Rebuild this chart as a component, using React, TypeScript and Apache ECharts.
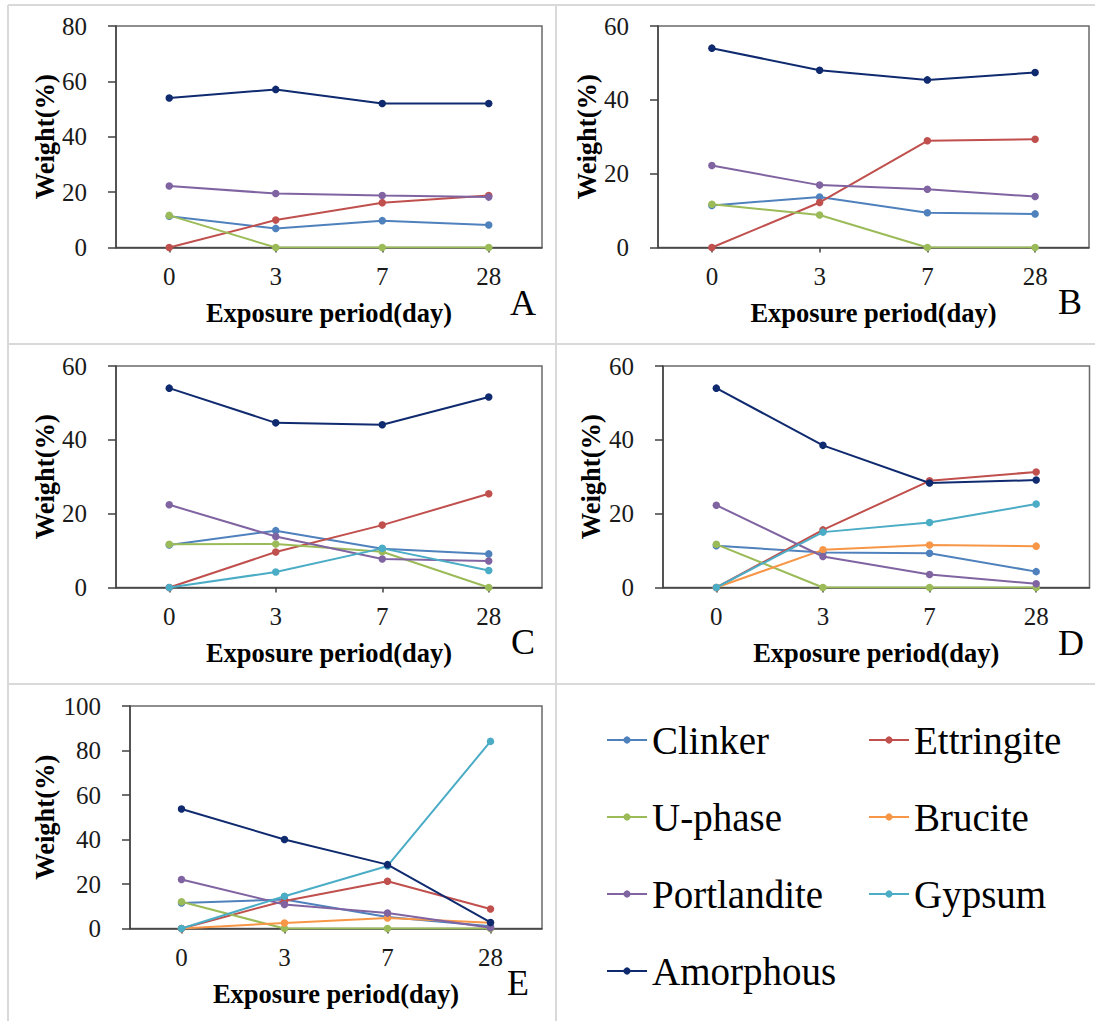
import React, { useEffect, useRef } from "react";
import * as echarts from "echarts";

const FONT = "'Liberation Serif', 'Times New Roman', Times, serif";

const days = ["0", "3", "7", "28"];
const phaseNames = ["Clinker", "Ettringite", "U-phase", "Brucite", "Portlandite", "Gypsum", "Amorphous"];
const phaseColors = ["#4F81BD", "#C0504D", "#9BBB59", "#F79646", "#8064A2", "#4BACC6", "#0F2A6E"];
const yTitle = "Weight(%)";
const xTitle = "Exposure period(day)";
const panelLetters = ["A", "B", "C", "D", "E"];
const panelMax = [80, 60, 60, 60, 100];

// Panel A
const aClinker = [11.3, 6.9, 9.7, 8.1];
const aEttringite = [0, 9.9, 16.2, 18.8];
const aUphase = [11.6, 0, 0, 0];
const aPortlandite = [22.2, 19.5, 18.8, 18.2];
const aAmorphous = [54, 57.1, 52, 52];

// Panel B
const bClinker = [11.4, 13.7, 9.4, 9.1];
const bEttringite = [0, 12.2, 28.9, 29.3];
const bUphase = [11.7, 8.8, 0, 0];
const bPortlandite = [22.2, 16.9, 15.8, 13.8];
const bAmorphous = [54, 48, 45.4, 47.4];

// Panel C
const cClinker = [11.5, 15.4, 10.5, 9.1];
const cEttringite = [0, 9.6, 16.9, 25.4];
const cUphase = [11.7, 11.8, 9.7, 0];
const cPortlandite = [22.4, 13.8, 7.7, 7.2];
const cGypsum = [0, 4.2, 10.6, 4.6];
const cAmorphous = [54, 44.6, 44.1, 51.6];

// Panel D
const dClinker = [11.3, 9.5, 9.3, 4.3];
const dEttringite = [0, 15.6, 28.9, 31.3];
const dUphase = [11.7, 0, 0, 0];
const dBrucite = [0, 10.2, 11.5, 11.2];
const dPortlandite = [22.3, 8.4, 3.5, 1.0];
const dGypsum = [0, 15.0, 17.6, 22.6];
const dAmorphous = [54, 38.5, 28.3, 29.1];

// Panel E
const eClinker = [11.5, 13.0, 5.2, 1.0];
const eEttringite = [0, 12.4, 21.2, 8.8];
const eUphase = [12.0, 0, 0, 0];
const eBrucite = [0, 2.5, 4.7, 2.6];
const ePortlandite = [22.0, 10.8, 7.0, 0.3];
const eGypsum = [0, 14.5, 28.1, 84.1];
const eAmorphous = [53.7, 40.0, 28.7, 2.7];

const panelData: Array<Record<string, number[]>> = [
  { Clinker: aClinker, Ettringite: aEttringite, "U-phase": aUphase, Portlandite: aPortlandite, Amorphous: aAmorphous },
  { Clinker: bClinker, Ettringite: bEttringite, "U-phase": bUphase, Portlandite: bPortlandite, Amorphous: bAmorphous },
  { Clinker: cClinker, Ettringite: cEttringite, "U-phase": cUphase, Portlandite: cPortlandite, Gypsum: cGypsum, Amorphous: cAmorphous },
  { Clinker: dClinker, Ettringite: dEttringite, "U-phase": dUphase, Brucite: dBrucite, Portlandite: dPortlandite, Gypsum: dGypsum, Amorphous: dAmorphous },
  { Clinker: eClinker, Ettringite: eEttringite, "U-phase": eUphase, Brucite: eBrucite, Portlandite: ePortlandite, Gypsum: eGypsum, Amorphous: eAmorphous },
];

// layout (pixels)
const grids = [
  { left: 116, top: 26, width: 426, height: 221.5 },
  { left: 658, top: 26, width: 431, height: 221.5 },
  { left: 116, top: 366, width: 426, height: 221.5 },
  { left: 663, top: 366, width: 426.5, height: 221.5 },
  { left: 130, top: 706, width: 412, height: 222.5 },
];
const yNameGaps = [58, 54, 58, 59, 72];
const letterPos = [
  [523, 303],
  [1070, 302],
  [523, 642],
  [1071, 643],
  [518, 983],
];

export default function App() {
  const ref = useRef<HTMLDivElement>(null);
  useEffect(() => {
    if (!ref.current) return;
    const chart = echarts.init(ref.current, null, { renderer: "svg" });

    const gridOpts = grids.map((g) => ({
      left: g.left,
      top: g.top,
      width: g.width,
      height: g.height,
      show: true,
      borderColor: "#6a6a6a",
      borderWidth: 1.5,
      backgroundColor: "transparent",
    }));

    const xAxes = grids.map((_, i) => ({
      type: "category",
      gridIndex: i,
      data: days,
      boundaryGap: true,
      axisLine: { show: true, lineStyle: { color: "#404040", width: 1.5 } },
      axisTick: { show: true, alignWithLabel: true, length: 5, lineStyle: { color: "#404040", width: 1.5 } },
      axisLabel: { color: "#1a1a1a", fontFamily: FONT, fontSize: 25, margin: 16 },
      splitLine: { show: false },
      name: xTitle,
      nameLocation: "middle",
      nameGap: 52,
      nameTextStyle: { color: "#000", fontFamily: FONT, fontSize: 26.5, fontWeight: "bold" },
    }));

    const yAxes = grids.map((_, i) => ({
      type: "value",
      gridIndex: i,
      min: 0,
      max: panelMax[i],
      interval: 20,
      axisLine: { show: true, lineStyle: { color: "#404040", width: 1.5 } },
      axisTick: { show: true, length: 8, inside: false, lineStyle: { color: "#404040", width: 1.5 } },
      axisLabel: { color: "#1a1a1a", fontFamily: FONT, fontSize: 25, margin: 29 },
      splitLine: { show: false },
      name: yTitle,
      nameLocation: "middle",
      nameGap: yNameGaps[i],
      nameTextStyle: { color: "#000", fontFamily: FONT, fontSize: 26.5, fontWeight: "bold" },
    }));

    const series: any[] = [];
    panelData.forEach((pd, i) => {
      phaseNames.forEach((name, k) => {
        const d = pd[name];
        if (!d) return;
        series.push({
          type: "line",
          name,
          xAxisIndex: i,
          yAxisIndex: i,
          data: d,
          symbol: "circle",
          symbolSize: 7.5,
          showSymbol: true,
          lineStyle: { color: phaseColors[k], width: 2 },
          itemStyle: { color: phaseColors[k] },
          z: 2 + k,
        });
      });
    });

    const divider = { stroke: "#d9d9d9", lineWidth: 2 };
    const graphics: any[] = [
      { type: "line", shape: { x1: 8, y1: 5, x2: 1095, y2: 5 }, style: divider, silent: true },
      { type: "line", shape: { x1: 8, y1: 5, x2: 8, y2: 1021 }, style: divider, silent: true },
      { type: "line", shape: { x1: 556, y1: 5, x2: 556, y2: 1021 }, style: divider, silent: true },
      { type: "line", shape: { x1: 8, y1: 344, x2: 1095, y2: 344 }, style: divider, silent: true },
      { type: "line", shape: { x1: 8, y1: 684, x2: 1095, y2: 684 }, style: divider, silent: true },
    ];
    panelLetters.forEach((l, i) => {
      graphics.push({
        type: "text",
        x: letterPos[i][0],
        y: letterPos[i][1],
        silent: true,
        style: {
          text: l,
          fill: "#000",
          font: `36px ${FONT}`,
          textAlign: "center",
          textVerticalAlign: "middle",
        },
      });
    });

    const legendCommon = {
      orient: "vertical",
      selectedMode: false,
      padding: 0,
      itemWidth: 40,
      itemHeight: 9,
      itemGap: 37,
      textStyle: { color: "#000", fontFamily: FONT, fontSize: 39, lineHeight: 40 },
    };

    chart.setOption({
      animation: false,
      backgroundColor: "#ffffff",
      grid: gridOpts,
      xAxis: xAxes,
      yAxis: yAxes,
      series,
      legend: [
        { ...legendCommon, left: 606, top: 720, data: ["Clinker", "U-phase", "Portlandite", "Amorphous"] },
        { ...legendCommon, left: 868, top: 720, data: ["Ettringite", "Brucite", "Gypsum"] },
      ],
      graphic: graphics,
    });

    return () => {
      chart.dispose();
    };
  }, []);

  return (
    <div
      ref={ref}
      style={{ position: "fixed", left: 0, top: 0, width: 1095, height: 1021, background: "#fff" }}
    />
  );
}
